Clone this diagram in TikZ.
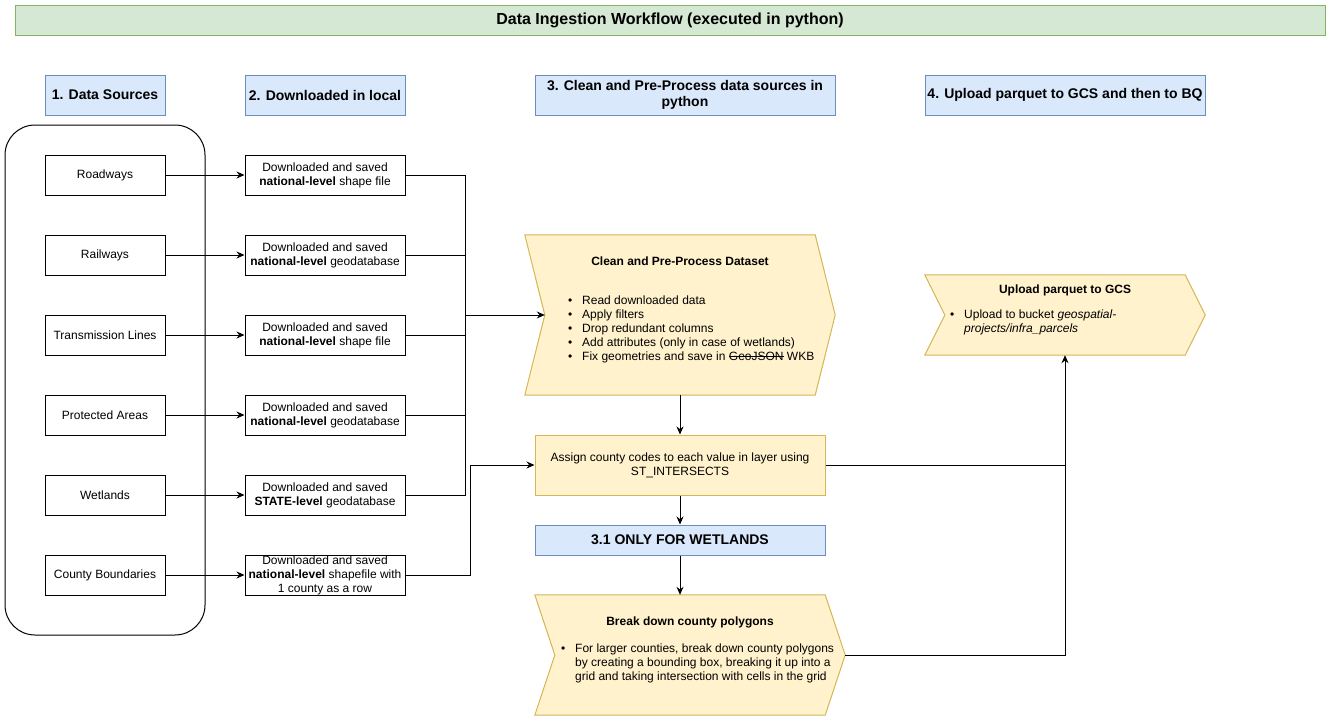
\documentclass[tikz,border=0pt]{standalone}
\usepackage{fontspec}
\setmainfont{Liberation Sans}
\usetikzlibrary{arrows.meta,positioning,backgrounds,calc}
\definecolor{grnfill}{HTML}{D5E8D4}
\definecolor{grndraw}{HTML}{82B366}
\definecolor{blufill}{HTML}{DAE8FC}
\definecolor{bludraw}{HTML}{6C8EBF}
\definecolor{ylwfill}{HTML}{FFF2CC}
\definecolor{ylwdraw}{HTML}{D6B656}

\newlength{\strklen}
\newcommand{\strk}[1]{\settowidth{\strklen}{#1}\rlap{\rule[0.3em]{\strklen}{0.7pt}}#1}
\newcommand{\itm}[1]{\makebox[14pt][l]{\textbullet}#1}
\newcommand{\stepbg}[1]{%
	\begin{scope}[on background layer]
	\draw [ylwdraw, fill=ylwfill, line width=1pt] (#1.north west) -- ([xshift=-20pt]#1.north east) -- (#1.east) -- ([xshift=-20pt]#1.south east) -- (#1.south west) -- ([xshift=20pt]#1.west) -- cycle ;
	\end{scope}}

\tikzset{
	header/.style={draw=bludraw, fill=blufill, line width=1pt, inner sep=0pt, align=center, font=\fontsize{14}{16}\selectfont\bfseries, minimum height=40pt},
	srcbox/.style={draw, line width=1pt, inner sep=0pt, align=center, font=\fontsize{12}{14}\selectfont, minimum width=120pt, minimum height=40pt},
	dlbox/.style={srcbox, minimum width=160pt},
	stepbox/.style={inner sep=0pt},
	steptitle/.style={inner sep=0pt, font=\fontsize{12}{14}\selectfont\bfseries},
	steplist/.style={inner sep=0pt, align=left, anchor=west, font=\fontsize{12}{14}\selectfont},
	line/.style={line width=1pt},
	conn/.style={line, -{Stealth[length=8pt,width=7pt]}}
}

\begin{document}
\begin{tikzpicture}[x=1pt,y=1pt,yscale=-1,xscale=1]
	\useasboundingbox (0,0) rectangle (1331,721);

	% title and column headers
	\node [draw=grndraw, fill=grnfill, line width=1pt, minimum width=1310pt, minimum height=30pt, inner sep=0pt, font=\fontsize{16}{18}\selectfont\bfseries] (title) at (670,20) {Data Ingestion Workflow (executed in python)};
	\node [header, minimum width=120pt] (hsrc) at (105,95) {1. Data Sources};
	\node [header, minimum width=160pt] (hdl) at (325,95) {2. Downloaded in local};
	\node [header, minimum width=300pt] (hclean) at (685,95) {3. Clean and Pre-Process data sources in\\python};
	\node [header, minimum width=280pt] (hup) at (1065,95) {4. Upload parquet to GCS and then to BQ};

	% data sources
	\node [draw, line width=1pt, rounded corners=30pt, minimum width=200pt, minimum height=510pt] (srcgroup) at (105,380) {};
	\node [srcbox] (road) at (105,175) {Roadways};
	\node [srcbox] (rail) at (105,255) {Railways};
	\node [srcbox] (trans) at (105,335) {Transmission Lines};
	\node [srcbox] (prot) at (105,415) {Protected Areas};
	\node [srcbox] (wetl) at (105,495) {Wetlands};
	\node [srcbox] (county) at (105,575) {County Boundaries};

	% downloaded files
	\node [dlbox] (dlroad) at (325,175) {Downloaded and saved\\\textbf{national-level} shape file};
	\node [dlbox] (dlrail) at (325,255) {Downloaded and saved\\\textbf{national-level} geodatabase};
	\node [dlbox] (dltrans) at (325,335) {Downloaded and saved\\\textbf{national-level} shape file};
	\node [dlbox] (dlprot) at (325,415) {Downloaded and saved\\\textbf{national-level} geodatabase};
	\node [dlbox] (dlwetl) at (325,495) {Downloaded and saved\\\textbf{STATE-level} geodatabase};
	\node [dlbox] (dlcounty) at (325,575) {Downloaded and saved\\\textbf{national-level} shapefile with\\1 county as a row};

	% processing steps
	\node [stepbox, minimum width=310pt, minimum height=160pt] (clean) at (680,315) {};
	\stepbg{clean}
	\node [steptitle] (cleanttl) at (680,261) {Clean and Pre-Process Dataset};
	\node [steplist] (cleanlst) at (568,329) {\itm{Read downloaded data}\\\itm{Apply filters}\\\itm{Drop redundant columns}\\\itm{Add attributes (only in case of wetlands)}\\\itm{Fix geometries and save in \strk{GeoJSON} WKB}};

	\node [draw=ylwdraw, fill=ylwfill, line width=1pt, minimum width=290pt, minimum height=60pt, inner sep=0pt, align=center, font=\fontsize{12}{14}\selectfont] (assign) at (680,465) {Assign county codes to each value in layer using\\ST\_INTERSECTS};
	\node [header, minimum width=290pt, minimum height=30pt] (wet) at (680,540) {3.1 ONLY FOR WETLANDS};

	\node [stepbox, minimum width=310pt, minimum height=120pt] (brk) at (690,655) {};
	\stepbg{brk}
	\node [steptitle] (brkttl) at (690,622) {Break down county polygons};
	\node [steplist] (brklst) at (561,663) {\itm{For larger counties, break down county polygons}\\\hspace*{14pt}by creating a bounding box, breaking it up into a\\\hspace*{14pt}grid and taking intersection with cells in the grid};

	\node [stepbox, minimum width=280pt, minimum height=80pt] (upload) at (1065,315) {};
	\stepbg{upload}
	\node [steptitle] (upttl) at (1065,290) {Upload parquet to GCS};
	\node [steplist] (uplst) at (950,322) {\itm{Upload to bucket \textit{geospatial-}}\\\hspace*{14pt}\textit{projects/infra\_parcels}};

	% connectors
	\coordinate (merge) at (465,315);
	\coordinate (cbend) at (470,575);
	\draw [conn] (road) -- (dlroad);
	\draw [conn] (rail) -- (dlrail);
	\draw [conn] (trans) -- (dltrans);
	\draw [conn] (prot) -- (dlprot);
	\draw [conn] (wetl) -- (dlwetl);
	\draw [conn] (county) -- (dlcounty);
	\draw [line] (dlroad.east) -| (merge);
	\draw [line] (dlrail.east) -| (merge);
	\draw [line] (dltrans.east) -| (merge);
	\draw [line] (dlprot.east) -| (merge);
	\draw [line] (dlwetl.east) -| (merge);
	\draw [conn] (merge) -- ([xshift=20pt]clean.west);
	\draw [conn] (dlcounty.east) -- (cbend) |- (assign.west);
	\draw [conn] (clean.south) -- (assign.north);
	\draw [conn] (assign.south) -- (wet.north);
	\draw [conn] (wet.south) -- (wet.south |- brk.north);
	\draw [line] (assign.east) -- (assign.east -| upload.south);
	\draw [conn] (brk.east) -| (upload.south);
\end{tikzpicture}
\end{document}
